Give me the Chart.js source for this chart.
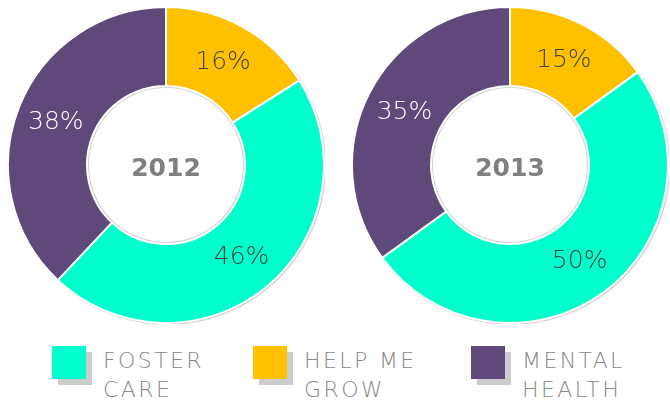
<!DOCTYPE html>
<html>
<head>
<meta charset="utf-8">
<script src="https://cdn.jsdelivr.net/npm/chart.js@4"></script>
<style>
  body { margin: 0; background: #fff; width: 670px; height: 402px; position: relative; overflow: hidden; }
  .pie { position: absolute; top: 6px; width: 318px; height: 318px; }
  #legend .box { position: absolute; top: 346px; width: 34px; height: 33px; box-shadow: 6px 6px 0 #cccccc; }
  #legend .txt { position: absolute; top: 346px; font: 200 22px 'DejaVu Sans', sans-serif; letter-spacing: 2.4px; line-height: 29px; color: #888; white-space: nowrap; }
</style>
</head>
<body>
<div class="pie" style="left:7px"><canvas id="c2012"></canvas></div>
<div class="pie" style="left:351px"><canvas id="c2013"></canvas></div>
<div id="legend"></div>
<script>
'use strict';

// data
const categories = ['HELP ME GROW', 'FOSTER CARE', 'MENTAL HEALTH'];
const years = ['2012', '2013'];
const values2012 = [16, 46, 38];
const values2013 = [15, 50, 35];
const colors = ['#FFC000', '#00FFCC', '#5F497A'];
const labelColors = ['#404040', '#404040', '#ffffff'];

// legend order and wrapping
const legendOrder = [1, 0, 2];
const legendLines = [['FOSTER', 'CARE'], ['HELP ME', 'GROW'], ['MENTAL', 'HEALTH']];
const legendX = [52, 253, 471];

// percent labels in the middle of each slice
const sliceLabels = {
  id: 'sliceLabels',
  afterDatasetsDraw(chart) {
    const c = chart.ctx;
    const meta = chart.getDatasetMeta(0);
    c.save();
    c.font = '200 25px "DejaVu Sans", sans-serif';
    c.textAlign = 'center';
    c.textBaseline = 'middle';
    meta.data.forEach((arc, i) => {
      const p = arc.tooltipPosition();
      c.fillStyle = labelColors[i];
      c.fillText(chart.data.datasets[0].data[i] + '%', p.x, p.y + 1);
    });
    // year in the hole
    const a = meta.data[0];
    c.font = 'bold 25px "DejaVu Sans", sans-serif';
    c.fillStyle = '#7f7f7f';
    c.fillText(chart.options.plugins.centerText, a.x, a.y + 4);
    c.restore();
  }
};

// soft grey edge round the ring
const ringShadow = {
  id: 'ringShadow',
  beforeDatasetsDraw(chart) {
    const a = chart.getDatasetMeta(0).data[0];
    const c = chart.ctx;
    c.save();
    c.strokeStyle = 'rgba(0,0,0,0.18)';
    c.lineWidth = 2;
    c.beginPath();
    c.arc(a.x + 1, a.y + 1, a.outerRadius, 0, Math.PI * 2);
    c.stroke();
    c.beginPath();
    c.arc(a.x, a.y, a.innerRadius - 1, 0, Math.PI * 2);
    c.stroke();
    c.restore();
  }
};

function makePie(id, values, year) {
  new Chart(document.getElementById(id), {
    type: 'doughnut',
    data: {
      labels: categories,
      datasets: [{
        data: values,
        backgroundColor: colors,
        borderColor: '#ffffff',
        borderWidth: 2
      }]
    },
    options: {
      responsive: true,
      maintainAspectRatio: false,
      animation: false,
      cutout: '50%',
      layout: { padding: 0 },
      plugins: {
        legend: { display: false },
        tooltip: { enabled: false },
        centerText: year
      }
    },
    plugins: [ringShadow, sliceLabels]
  });
}

makePie('c2012', values2012, years[0]);
makePie('c2013', values2013, years[1]);

// legend
const lg = document.getElementById('legend');
legendOrder.forEach((k, j) => {
  const box = document.createElement('div');
  box.className = 'box';
  box.style.left = legendX[j] + 'px';
  box.style.background = colors[k];
  lg.appendChild(box);
  const t = document.createElement('div');
  t.className = 'txt';
  t.style.left = (legendX[j] + 51) + 'px';
  t.innerHTML = legendLines[j].join('<br>');
  lg.appendChild(t);
});
</script>
</body>
</html>
